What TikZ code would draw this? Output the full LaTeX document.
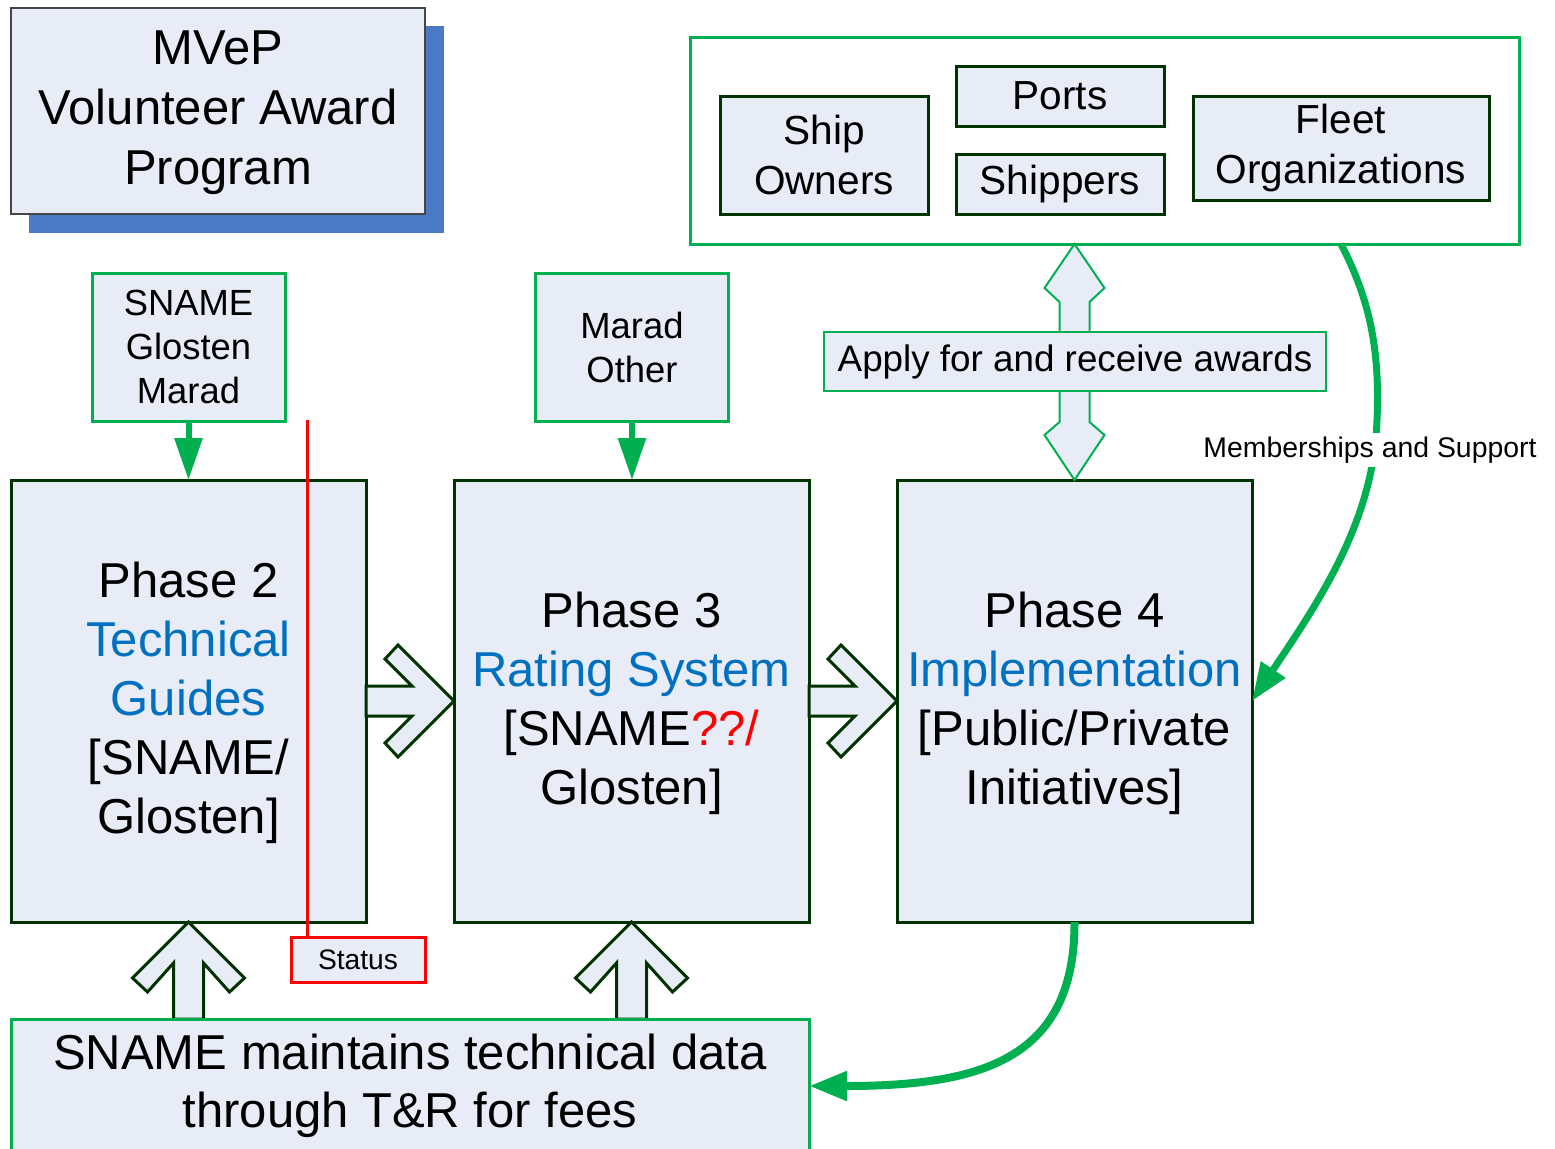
\documentclass[tikz,border=0pt]{standalone}
\usepackage{fontspec}
\setmainfont{Liberation Sans}
\usetikzlibrary{arrows.meta,calc}
\definecolor{boxfill}{RGB}{231,236,247}
\definecolor{dkgreen}{RGB}{0,51,0}
\definecolor{brgreen}{RGB}{0,176,80}
\definecolor{txtblue}{RGB}{0,112,192}
\definecolor{shadowblue}{RGB}{74,122,196}
\definecolor{titlegray}{RGB}{70,70,70}
\begin{document}
\begin{tikzpicture}[x=0.5pt,y=-0.5pt,
  every node/.style={inner sep=0pt, outer sep=0pt, align=center},
  phasebox/.style={draw=dkgreen, fill=boxfill, line width=1.5pt, minimum width=177.5pt, minimum height=221pt, font=\fontsize{24.5pt}{29.5pt}\selectfont},
  orgbox/.style={draw=dkgreen, fill=boxfill, line width=1.5pt, font=\fontsize{20.3pt}{25pt}\selectfont},
  srcbox/.style={draw=brgreen, fill=boxfill, line width=1.5pt, minimum width=96.5pt, minimum height=74pt, font=\fontsize{18.2pt}{22pt}\selectfont},
  blockarrow/.style={draw=dkgreen, fill=boxfill, line width=1.5pt, line join=miter},
  dblarrow/.style={draw=brgreen, fill=boxfill, line width=1pt},
  feed/.style={draw=brgreen, line width=3pt, -{Triangle[length=21pt,width=13.5pt]}},
  flow/.style={draw=brgreen, line width=4pt, -{Triangle[length=19pt,width=14pt]}},
]
\useasboundingbox (0,0) rectangle (1555,1148);
\clip (0,0) rectangle (1555,1148);
% title
\fill[shadowblue] (29,26) rectangle (444,233);
\node[draw=titlegray, fill=boxfill, line width=0.6pt, minimum width=207pt, minimum height=103pt] (title) at (218,111) {};
\node[font=\fontsize{24.5pt}{30pt}\selectfont] (titletext) at (218,113) {MVeP\\Volunteer Award\\Program};
% top group
\node[draw=brgreen, line width=1.5pt, minimum width=414.5pt, minimum height=103.5pt] (top) at (1104.5,140.5) {};
\node[orgbox, minimum width=104pt, minimum height=59pt] (ship) at (824,155) {Ship\\Owners};
\node[orgbox, minimum width=104pt, minimum height=30pt] (ports) at (1060,96) {Ports};
\node[orgbox, minimum width=104pt, minimum height=30pt] (shippers) at (1060,184) {Shippers};
\node[orgbox, minimum width=148pt, minimum height=52pt] (fleet) at (1341,148) {Fleet\\Organizations};
% source boxes
\node[srcbox] (sgm) at (188.5,347) {SNAME\\Glosten\\Marad};
\node[srcbox] (mo) at (632,347) {Marad\\Other};
% phases
\node[phasebox] (p2) at (188.5,701) {};
\node[phasebox] (p3) at (631.5,701) {};
\node[phasebox] (p4) at (1074.5,701) {};
\node[font=\fontsize{24.5pt}{29.5pt}\selectfont] (p2text) at (188.5,703) {Phase 2\\\textcolor{txtblue}{Technical}\\\textcolor{txtblue}{Guides}\\{[}SNAME/\\Glosten]};
\node[font=\fontsize{24.5pt}{29.5pt}\selectfont] (p3text) at (631.5,703) {Phase 3\\\textcolor{txtblue}{Rating System}\\{[}SNAME\textcolor{red}{??/}\\Glosten]};
\node[font=\fontsize{24.5pt}{29.5pt}\selectfont] (p4text) at (1074.5,703) {Phase 4\\\textcolor{txtblue}{Implementation}\\{[}Public/Private\\Initiatives]};
% double arrow and apply box
\draw[dblarrow] (p4.north) -- ++(-30,-45) -- ++(15,-13) -- ++(0,-120) -- ++(-15,-14) -- ++(30,-44) -- ++(30,44) -- ++(-15,14) -- ++(0,120) -- ++(15,13) -- cycle;
\node[draw=brgreen, fill=boxfill, line width=1pt, minimum width=251pt, minimum height=29.5pt, font=\fontsize{18.4pt}{22pt}\selectfont] (apply) at (1075,361.5) {Apply for and receive awards};
% block arrows between phases
\draw[blockarrow] (p3.west) -- ++(-56,-56) -- ++(-13,14) -- ++(27,27) -- ++(-46,0) -- ++(0,30) -- ++(46,0) -- ++(-27,27) -- ++(13,14) -- cycle;
\draw[blockarrow] (p4.west) -- ++(-56,-56) -- ++(-13,14) -- ++(27,27) -- ++(-46,0) -- ++(0,30) -- ++(46,0) -- ++(-27,27) -- ++(13,14) -- cycle;
% up arrows
\draw[blockarrow] (p2.south) -- ++(-56,56) -- ++(15,14) -- ++(26,-29) -- ++(0,56) -- ++(30,0) -- ++(0,-56) -- ++(26,29) -- ++(15,-14) -- cycle;
\draw[blockarrow] (p3.south) -- ++(-56,56) -- ++(15,14) -- ++(26,-29) -- ++(0,56) -- ++(30,0) -- ++(0,-56) -- ++(26,29) -- ++(15,-14) -- cycle;
% bottom box
\node[draw=brgreen, fill=boxfill, line width=1.5pt, minimum width=399pt, minimum height=67pt, font=\fontsize{24.5pt}{29pt}\selectfont] (snb) at (410,1086) {SNAME maintains technical data\\through T\&R for fees};
% status
\node[draw=red, fill=boxfill, line width=1.5pt, minimum width=67pt, minimum height=22.5pt, font=\fontsize{14.1pt}{17pt}\selectfont] (status) at (358,959.5) {Status};
\coordinate (redtop) at (307,420);
\draw[red, line width=1.5pt] (redtop) -- (redtop |- status.north);
% feeds
\draw[feed] (sgm.south) -- (p2.north);
\draw[feed] (mo.south) -- (mo.south |- p3.north);
% curves
\draw[flow] (p4.south) .. controls (1075,1060) and (980,1086) .. (snb.east);
\coordinate (mstart) at (fleet.south |- top.south);
\draw[flow, line width=3.5pt] (mstart) .. controls (1370,300) and (1380,350) .. (1377,420) .. controls (1374,520) and (1320,600) .. (p4.east);
\node[fill=white, inner sep=2pt, font=\fontsize{14.2pt}{17pt}\selectfont] (memb) at (1370,450) {Memberships and Support};
\end{tikzpicture}
\end{document}
